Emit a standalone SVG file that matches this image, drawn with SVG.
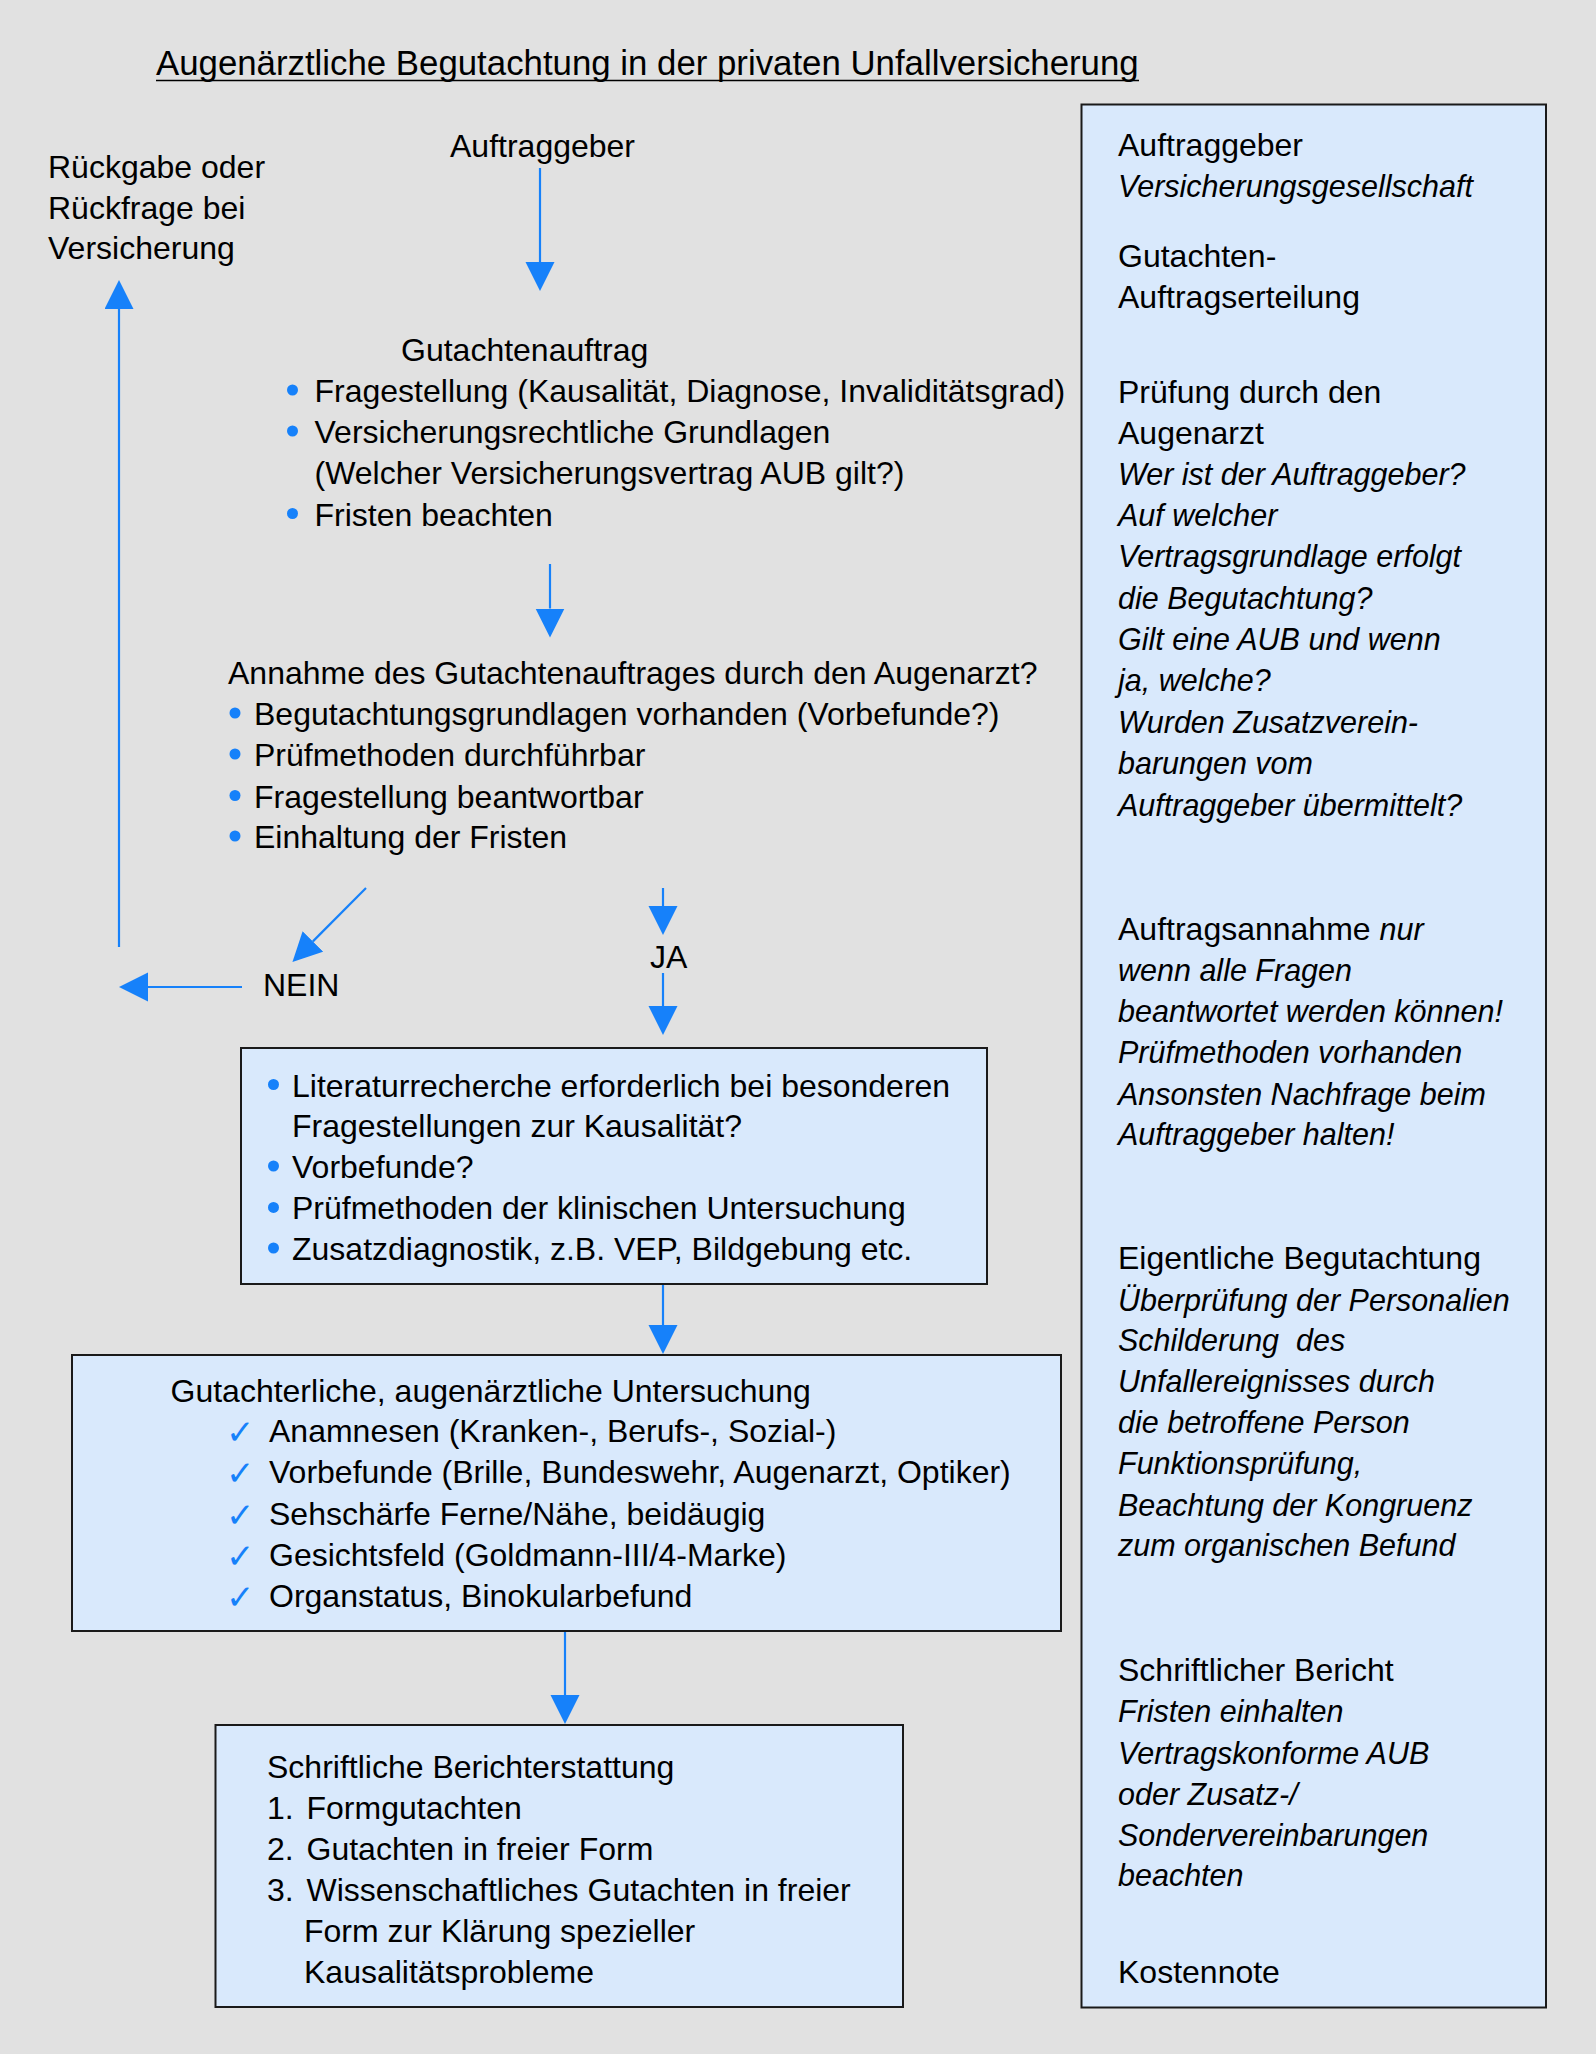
<svg xmlns="http://www.w3.org/2000/svg" width="1596" height="2054" viewBox="0 0 1596 2054">
<defs>
<style>
text{font-family:"Liberation Sans",Arial,sans-serif;font-size:32px;fill:#000}
.it{font-style:italic;font-size:30.5px}
.title{font-size:34.8px}
.box{fill:#d9e9fc;stroke:#1a1a1a;stroke-width:2}
.con{stroke:#1681fa;stroke-width:2.2;fill:none}
.bul{fill:#1681fa}
.chk{fill:#1681fa;font-family:"DejaVu Sans",sans-serif;font-size:34px}
</style>
<marker id="ah" markerUnits="userSpaceOnUse" markerWidth="30" markerHeight="30" refX="0" refY="14.5" orient="auto">
<path d="M0,0 L29,14.5 L0,29 Z" fill="#1681fa"/>
</marker>
</defs>
<rect x="0" y="0" width="1596" height="2054" fill="#e1e1e1"/>

<g id="title">
<text class="title" x="156" y="75">Augenärztliche Begutachtung in der privaten Unfallversicherung</text>
<line x1="156" y1="80.5" x2="1139" y2="80.5" stroke="#000" stroke-width="1.6"/>
</g>

<g id="rueckgabe">
<text x="48" y="178">Rückgabe oder</text>
<text x="48" y="219">Rückfrage bei</text>
<text x="48" y="259">Versicherung</text>
</g>

<g id="auftraggeber">
<text x="450" y="157">Auftraggeber</text>
</g>

<g id="gutachtenauftrag">
<text x="401" y="361">Gutachtenauftrag</text>
<circle class="bul" cx="292.5" cy="390" r="5.5"/>
<text x="314.5" y="402">Fragestellung (Kausalität, Diagnose, Invaliditätsgrad)</text>
<circle class="bul" cx="292.5" cy="431" r="5.5"/>
<text x="314.5" y="443">Versicherungsrechtliche Grundlagen</text>
<text x="314.5" y="484">(Welcher Versicherungsvertrag AUB gilt?)</text>
<circle class="bul" cx="292.5" cy="513.5" r="5.5"/>
<text x="314.5" y="525.5">Fristen beachten</text>
</g>

<g id="annahme">
<text x="228" y="684">Annahme des Gutachtenauftrages durch den Augenarzt?</text>
<circle class="bul" cx="235" cy="713" r="5.5"/>
<text x="254" y="725">Begutachtungsgrundlagen vorhanden (Vorbefunde?)</text>
<circle class="bul" cx="235" cy="754" r="5.5"/>
<text x="254" y="766">Prüfmethoden durchführbar</text>
<circle class="bul" cx="235" cy="795.5" r="5.5"/>
<text x="254" y="807.5">Fragestellung beantwortbar</text>
<circle class="bul" cx="235" cy="836" r="5.5"/>
<text x="254" y="848">Einhaltung der Fristen</text>
</g>

<g id="nein">
<text x="263" y="996">NEIN</text>
</g>

<g id="ja">
<text x="650" y="968">JA</text>
</g>

<g id="vorbereitung">
<rect class="box" x="241" y="1048" width="746" height="236"/>
<circle class="bul" cx="273.5" cy="1084.5" r="5.5"/>
<text x="292" y="1096.7">Literaturrecherche erforderlich bei besonderen</text>
<text x="292" y="1137.4">Fragestellungen zur Kausalität?</text>
<circle class="bul" cx="273.5" cy="1166" r="5.5"/>
<text x="292" y="1178">Vorbefunde?</text>
<circle class="bul" cx="273.5" cy="1207.4" r="5.5"/>
<text x="292" y="1219.4">Prüfmethoden der klinischen Untersuchung</text>
<circle class="bul" cx="273.5" cy="1248" r="5.5"/>
<text x="292" y="1260">Zusatzdiagnostik, z.B. VEP, Bildgebung etc.</text>
</g>

<g id="untersuchung">
<rect class="box" x="72" y="1355" width="989" height="276"/>
<text x="170.5" y="1402">Gutachterliche, augenärztliche Untersuchung</text>
<text class="chk" x="226" y="1444">✓</text>
<text x="269" y="1442">Anamnesen (Kranken-, Berufs-, Sozial-)</text>
<text class="chk" x="226" y="1485">✓</text>
<text x="269" y="1483">Vorbefunde (Brille, Bundeswehr, Augenarzt, Optiker)</text>
<text class="chk" x="226" y="1526.5">✓</text>
<text x="269" y="1524.5">Sehschärfe Ferne/Nähe, beidäugig</text>
<text class="chk" x="226" y="1567.5">✓</text>
<text x="269" y="1565.5">Gesichtsfeld (Goldmann-III/4-Marke)</text>
<text class="chk" x="226" y="1608.5">✓</text>
<text x="269" y="1606.5">Organstatus, Binokularbefund</text>
</g>

<g id="bericht">
<rect class="box" x="215.5" y="1725" width="687.5" height="282"/>
<text x="267" y="1778">Schriftliche Berichterstattung</text>
<text x="267" y="1819">1.</text>
<text x="306.5" y="1819">Formgutachten</text>
<text x="267" y="1860">2.</text>
<text x="306.5" y="1860">Gutachten in freier Form</text>
<text x="267" y="1901">3.</text>
<text x="306.5" y="1901">Wissenschaftliches Gutachten in freier</text>
<text x="304" y="1942">Form zur Klärung spezieller</text>
<text x="304" y="1983">Kausalitätsprobleme</text>
</g>

<g id="ablauf">
<rect class="box" x="1081.5" y="104.5" width="464.5" height="1903"/>
<text x="1118" y="156">Auftraggeber</text>
<text class="it" x="1118" y="197">Versicherungsgesellschaft</text>
<text x="1118" y="267">Gutachten-</text>
<text x="1118" y="307.5">Auftragserteilung</text>
<text x="1118" y="403">Prüfung durch den</text>
<text x="1118" y="443.5">Augenarzt</text>
<text class="it" x="1118" y="484.5">Wer ist der Auftraggeber?</text>
<text class="it" x="1118" y="526">Auf welcher</text>
<text class="it" x="1118" y="567">Vertragsgrundlage erfolgt</text>
<text class="it" x="1118" y="608.5">die Begutachtung?</text>
<text class="it" x="1118" y="650">Gilt eine AUB und wenn</text>
<text class="it" x="1118" y="691">ja, welche?</text>
<text class="it" x="1118" y="733">Wurden Zusatzverein-</text>
<text class="it" x="1118" y="774">barungen vom</text>
<text class="it" x="1118" y="815.5">Auftraggeber übermittelt?</text>
<text x="1118" y="939.5">Auftragsannahme <tspan class="it">nur</tspan></text>
<text class="it" x="1118" y="980.5">wenn alle Fragen</text>
<text class="it" x="1118" y="1021.5">beantwortet werden können!</text>
<text class="it" x="1118" y="1063">Prüfmethoden vorhanden</text>
<text class="it" x="1118" y="1104.5">Ansonsten Nachfrage beim</text>
<text class="it" x="1118" y="1145">Auftraggeber halten!</text>
<text x="1118" y="1269">Eigentliche Begutachtung</text>
<text class="it" x="1118" y="1310.5">Überprüfung der Personalien</text>
<text class="it" x="1118" y="1351" xml:space="preserve">Schilderung  des</text>
<text class="it" x="1118" y="1392">Unfallereignisses durch</text>
<text class="it" x="1118" y="1433">die betroffene Person</text>
<text class="it" x="1118" y="1474">Funktionsprüfung,</text>
<text class="it" x="1118" y="1515.5">Beachtung der Kongruenz</text>
<text class="it" x="1118" y="1556">zum organischen Befund</text>
<text x="1118" y="1681">Schriftlicher Bericht</text>
<text class="it" x="1118" y="1722">Fristen einhalten</text>
<text class="it" x="1118" y="1763.5">Vertragskonforme AUB</text>
<text class="it" x="1118" y="1804.5">oder Zusatz-/</text>
<text class="it" x="1118" y="1845.5">Sondervereinbarungen</text>
<text class="it" x="1118" y="1886">beachten</text>
<text x="1118" y="1983">Kostennote</text>
</g>

<g id="connectors">
<line class="con" x1="540" y1="168" x2="540" y2="262" marker-end="url(#ah)"/>
<line class="con" x1="550" y1="564" x2="550" y2="608.5" marker-end="url(#ah)"/>
<line class="con" x1="366" y1="888" x2="312.9" y2="941.4" marker-end="url(#ah)"/>
<line class="con" x1="242" y1="987" x2="148" y2="987" marker-end="url(#ah)"/>
<line class="con" x1="119" y1="947" x2="119" y2="309" marker-end="url(#ah)"/>
<line class="con" x1="663" y1="888" x2="663" y2="906" marker-end="url(#ah)"/>
<line class="con" x1="663" y1="973" x2="663" y2="1006" marker-end="url(#ah)"/>
<line class="con" x1="663" y1="1285" x2="663" y2="1325" marker-end="url(#ah)"/>
<line class="con" x1="565" y1="1632" x2="565" y2="1695" marker-end="url(#ah)"/>
</g>
</svg>
